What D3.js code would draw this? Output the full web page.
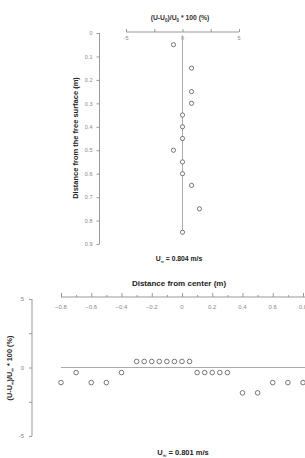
<!DOCTYPE html>
<html>
<head>
<meta charset="utf-8">
<script src="https://cdn.jsdelivr.net/npm/d3@7"></script>
<style>
	body { margin: 0; background: #fff; }
	svg { font-family: "Liberation Sans", Arial, sans-serif; }
	.tick text { fill: #888; }
	.domain, .tick line { stroke: #999; }
</style>
</head>
<body>
<div id="chart"></div>
<script>
// верхний график: глубина и отклонение
var depth = [0.05, 0.15, 0.25, 0.3, 0.35, 0.4, 0.45, 0.5, 0.55, 0.6, 0.65, 0.75, 0.85];
var depthDev = [-0.8, 0.8, 0.8, 0.8, 0, 0, 0, -0.8, 0, 0, 0.8, 1.5, 0];
var depthTicks = [0, 0.1, 0.2, 0.3, 0.4, 0.5, 0.6, 0.7, 0.8, 0.9];
var devTicksTop = [-5, 0, 5];

// нижний график: расстояние от центра и отклонение
var dist = [-0.8, -0.7, -0.6, -0.5, -0.4, -0.3, -0.25, -0.2, -0.15, -0.1, -0.05, 0, 0.05,
	0.1, 0.15, 0.2, 0.25, 0.3, 0.4, 0.5, 0.6, 0.7, 0.8];
var distDev = [-1.1, -0.37, -1.1, -1.1, -0.37, 0.44, 0.44, 0.44, 0.44, 0.44, 0.44, 0.44, 0.44,
	-0.37, -0.37, -0.37, -0.37, -0.37, -1.85, -1.85, -1.1, -1.1, -1.1];
var distTicks = [-0.8, -0.6, -0.4, -0.2, 0, 0.2, 0.4, 0.6, 0.8];
var devTicksBottom = [-5, 0, 5];

var svgWidth = 305, svgHeight = 458;

var svg = d3.select('#chart')
	.append('svg')
	.attr('width', svgWidth)
	.attr('height', svgHeight)
;

/*------------------------ верхний график ------------------------*/
var xTop = d3.scaleLinear().domain([-5, 5]).range([126, 239]);
var yTop = d3.scaleLinear().domain([0, 0.9]).range([33, 244]);

svg.append('g')
	.attr('transform', 'translate(0,32)')
	.call(d3.axisTop(xTop).tickValues([-5, -2.5, 0, 2.5, 5]).tickSize(3).tickFormat(''))
	.call(function(g){ g.select('.domain').attr('d', 'M126,0H239'); })
;
svg.append('g').selectAll('text')
	.data(devTicksTop)
	.enter()
	.append('text')
	.attr('x', function(d){ return xTop(d); })
	.attr('y', 40)
	.attr('text-anchor', 'middle')
	.style('font-size', '5.5px')
	.style('fill', '#888')
	.text(function(d){ return d; })
;

svg.append('g')
	.attr('transform', 'translate(99.5,0)')
	.call(d3.axisLeft(yTop).tickValues(depthTicks).tickSize(3).tickPadding(4)
		.tickFormat(function(d){ return d === 0 ? '0' : d3.format('.1f')(d); }))
	.call(function(g){
		g.select('.domain').attr('d', 'M0,' + yTop(0) + 'V' + yTop(0.9));
		g.selectAll('text').style('font-size', '5.5px');
	})
;

// линия нуля
svg.append('line')
	.attr('x1', xTop(0)).attr('x2', xTop(0))
	.attr('y1', yTop(0.01)).attr('y2', yTop(0.85))
	.attr('stroke', '#aaa')
;

svg.append('g').selectAll('circle')
	.data(depth)
	.enter()
	.append('circle')
	.attr('cx', function(d, i){ return xTop(depthDev[i]); })
	.attr('cy', function(d){ return yTop(d); })
	.attr('r', 2.1)
	.attr('fill', '#fff')
	.attr('stroke', '#555')
	.attr('stroke-width', 0.8)
;

var titleTop = svg.append('text')
	.attr('x', 180).attr('y', 20)
	.attr('text-anchor', 'middle')
	.style('font-size', '6.8px')
	.style('font-weight', 'bold')
	.style('fill', '#333')
;
titleTop.append('tspan').text('(U-U');
titleTop.append('tspan').attr('dy', 1.5).style('font-size', '4.5px').text('0');
titleTop.append('tspan').attr('dy', -1.5).text(')/U');
titleTop.append('tspan').attr('dy', 1.5).style('font-size', '4.5px').text('0');
titleTop.append('tspan').attr('dy', -1.5).text(' * 100 (%)');

svg.append('text')
	.attr('transform', 'translate(78,138) rotate(-90)')
	.attr('text-anchor', 'middle')
	.style('font-size', '7.5px')
	.style('font-weight', 'bold')
	.style('fill', '#222')
	.text('Distance from the free surface (m)')
;

var capTop = svg.append('text')
	.attr('x', 179).attr('y', 261)
	.attr('text-anchor', 'middle')
	.style('font-size', '6.8px')
	.style('font-weight', 'bold')
	.style('fill', '#222')
;
capTop.append('tspan').text('U');
capTop.append('tspan').attr('dy', 1.5).style('font-size', '4.5px').text('\u221e');
capTop.append('tspan').attr('dy', -1.5).text(' = 0.804 m/s');

/*------------------------ нижний график ------------------------*/
var xBot = d3.scaleLinear().domain([-0.8, 0.8]).range([61, 303]);
var yBot = d3.scaleLinear().domain([-5, 5]).range([436, 299]);

svg.append('text')
	.attr('x', 179).attr('y', 286)
	.attr('text-anchor', 'middle')
	.style('font-size', '8px')
	.style('font-weight', 'bold')
	.style('fill', '#222')
	.text('Distance from center (m)')
;

svg.append('g')
	.attr('transform', 'translate(0,297)')
	.call(d3.axisTop(xBot).tickValues(d3.range(-8, 9).map(function(d){ return d / 10; }))
		.tickSize(3).tickFormat(''))
	.call(function(g){
		g.select('.domain').attr('d', 'M61,0H310');
		g.selectAll('.tick line').attr('y2', function(d){
			return Math.round(d * 10) % 2 === 0 ? -4 : -2;
		});
	})
;
svg.append('g').selectAll('text')
	.data(distTicks)
	.enter()
	.append('text')
	.attr('x', function(d){ return xBot(d); })
	.attr('y', 309)
	.attr('text-anchor', 'middle')
	.style('font-size', '6px')
	.style('fill', '#888')
	.text(function(d){ return d === 0 ? '0' : d3.format('.1f')(d); })
;

svg.append('g')
	.attr('transform', 'translate(32,0)')
	.call(d3.axisLeft(yBot).tickValues([-5, -2.5, 0, 2.5, 5]).tickSize(3).tickPadding(5)
		.tickFormat(function(d){ return devTicksBottom.indexOf(d) >= 0 ? d : ''; }))
	.call(function(g){
		g.select('.domain').attr('d', 'M0,' + yBot(5) + 'V' + yBot(-5));
		g.selectAll('text').style('font-size', '6px');
	})
;

svg.append('line')
	.attr('x1', xBot(-0.8)).attr('x2', 310)
	.attr('y1', yBot(0)).attr('y2', yBot(0))
	.attr('stroke', '#aaa')
;

svg.append('g').selectAll('circle')
	.data(dist)
	.enter()
	.append('circle')
	.attr('cx', function(d){ return xBot(d); })
	.attr('cy', function(d, i){ return yBot(distDev[i]); })
	.attr('r', 2.3)
	.attr('fill', '#fff')
	.attr('stroke', '#555')
	.attr('stroke-width', 0.8)
;

var titleBot = svg.append('text')
	.attr('transform', 'translate(12,368) rotate(-90)')
	.attr('text-anchor', 'middle')
	.style('font-size', '7.3px')
	.style('font-weight', 'bold')
	.style('fill', '#222')
;
titleBot.append('tspan').text('(U-U');
titleBot.append('tspan').attr('dy', 1.5).style('font-size', '5px').text('\u221e');
titleBot.append('tspan').attr('dy', -1.5).text(')/U');
titleBot.append('tspan').attr('dy', 1.5).style('font-size', '5px').text('\u221e');
titleBot.append('tspan').attr('dy', -1.5).text(' * 100 (%)');

var capBot = svg.append('text')
	.attr('x', 183).attr('y', 455)
	.attr('text-anchor', 'middle')
	.style('font-size', '7.5px')
	.style('font-weight', 'bold')
	.style('fill', '#222')
;
capBot.append('tspan').text('U');
capBot.append('tspan').attr('dy', 1.5).style('font-size', '5px').text('\u221e');
capBot.append('tspan').attr('dy', -1.5).text(' = 0.801 m/s');
</script>
</body>
</html>
